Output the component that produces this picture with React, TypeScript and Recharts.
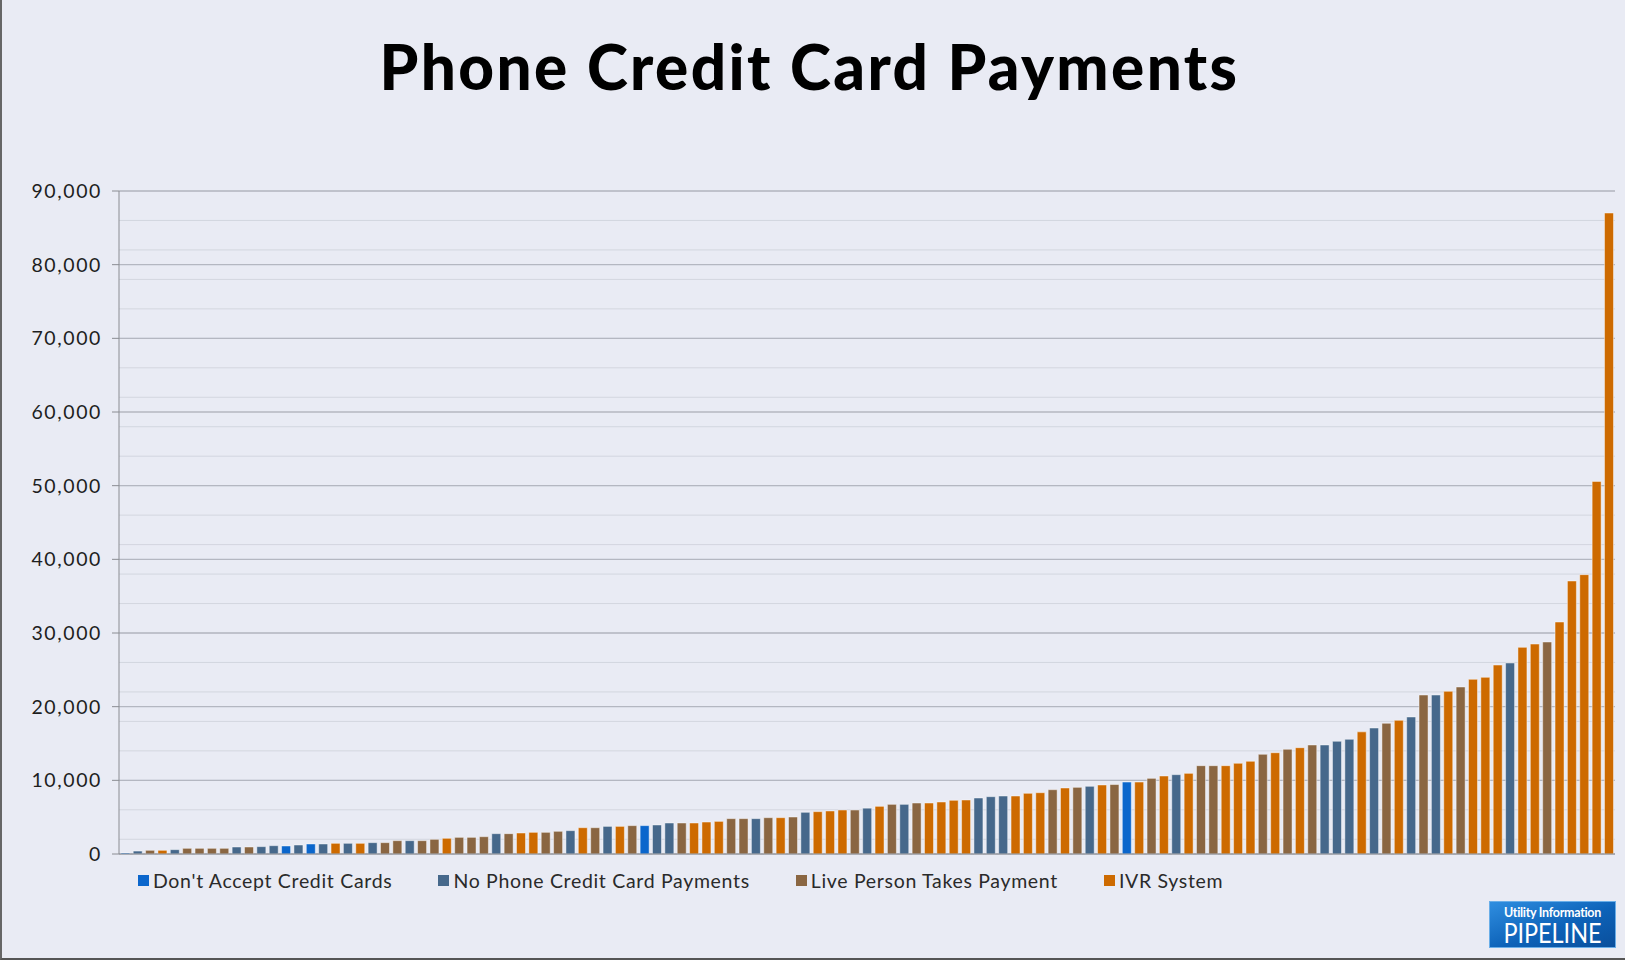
import { BarChart, Bar, XAxis, YAxis, CartesianGrid, Cell } from 'recharts'

const categories = [
  "Don't Accept Credit Cards",
  'No Phone Credit Card Payments',
  'Live Person Takes Payment',
  'IVR System',
]
const categoryColors = ['#0b66cc', '#46688b', '#8a6642', '#cd6a00']

// one value per utility, sorted ascending
const payments = [
  150, 400, 500, 500, 590, 770, 770, 770, 770, 950,
  950, 1000, 1130, 1090, 1220, 1360, 1360, 1450, 1450, 1450,
  1540, 1540, 1810, 1810, 1810, 1990, 2130, 2260, 2260, 2350,
  2760, 2760, 2850, 2940, 2940, 3080, 3170, 3570, 3570, 3750,
  3750, 3850, 3850, 3940, 4210, 4210, 4210, 4340, 4430, 4800,
  4800, 4800, 4930, 4930, 5020, 5660, 5750, 5840, 5970, 5970,
  6220, 6470, 6740, 6740, 6920, 6920, 7060, 7290, 7330, 7600,
  7780, 7870, 7870, 8240, 8320, 8730, 8960, 9050, 9190, 9370,
  9430, 9770, 9770, 10270, 10590, 10770, 10950, 11990, 11990, 11990,
  12310, 12580, 13530, 13750, 14210, 14430, 14800, 14800, 15300, 15570,
  16580, 17100, 17740, 18140, 18600, 21580, 21580, 22080, 22670, 23710,
  23980, 25650, 25930, 28050, 28500, 28780, 31490, 37060, 37920, 50580,
  87010,
]

// index into categories
const paymentGroup = [
  0, 1, 2, 3, 1, 2, 2, 2, 2, 1,
  2, 1, 1, 0, 1, 0, 1, 3, 1, 3,
  1, 2, 2, 1, 2, 2, 3, 2, 2, 2,
  1, 2, 3, 3, 2, 2, 1, 3, 2, 1,
  3, 2, 0, 1, 1, 2, 3, 3, 3, 2,
  2, 1, 2, 3, 2, 1, 3, 3, 3, 2,
  1, 3, 2, 1, 2, 3, 3, 3, 3, 1,
  1, 1, 3, 3, 3, 2, 3, 2, 1, 3,
  2, 0, 3, 2, 3, 1, 3, 2, 2, 3,
  3, 3, 2, 3, 2, 3, 2, 1, 1, 1,
  3, 1, 2, 3, 1, 2, 1, 3, 2, 3,
  3, 3, 1, 3, 3, 2, 3, 3, 3, 3,
  3,
]

const yTicks = [0, 10000, 20000, 30000, 40000, 50000, 60000, 70000, 80000, 90000]
const minorLines = Array.from({ length: 46 }, (_, i) => i * 2000)

const FONT = 'Lato, "Open Sans", sans-serif'

const data = payments.map((v, i) => ({ idx: i + 1, value: v, group: paymentGroup[i] }))

export default function App() {
  return (
    <div
      style={{
        position: 'absolute', left: 0, top: 0, width: 1625, height: 960,
        background: '#e9ebf4', boxSizing: 'border-box',
        borderLeft: '2px solid #666', borderBottom: '2px solid #555',
        fontFamily: FONT, overflow: 'hidden',
      }}
    >
      <div
        style={{
          position: 'absolute', top: 29, left: 0, width: 1615, textAlign: 'center',
          fontSize: 62, fontWeight: 900, color: '#000', letterSpacing: '2.4px',
        }}
      >
        Phone Credit Card Payments
      </div>

      <div style={{ position: 'absolute', left: -2, top: 0 }}>
        <BarChart
          width={1625}
          height={960}
          data={data}
          margin={{ top: 191, right: 10, bottom: 105, left: 0 }}
          barCategoryGap="15%"
        >
          <CartesianGrid vertical={false} horizontalValues={minorLines} stroke="#d3d6df" strokeWidth={1} />
          <CartesianGrid vertical={false} horizontalValues={yTicks} stroke="#b4b7c1" strokeWidth={1.3} />
          <XAxis dataKey="idx" tick={false} tickLine={false} height={1} axisLine={{ stroke: '#8a8c92' }} />
          <YAxis
            type="number"
            domain={[0, 90000]}
            ticks={yTicks}
            width={119}
            tickSize={7}
            tickMargin={10}
            tickFormatter={(v: number) => v.toLocaleString('en-US')}
            tick={{ fontFamily: FONT, fontSize: 19.5, fill: '#1e1e1e', style: { letterSpacing: '1.6px' } }}
            axisLine={{ stroke: '#8a8c92' }}
            tickLine={{ stroke: '#8a8c92' }}
          />
          <Bar dataKey="value" isAnimationActive={false} stroke="rgba(255,255,255,0.45)" strokeWidth={1}>
            {data.map((d) => (
              <Cell key={d.idx} fill={categoryColors[d.group]} />
            ))}
          </Bar>
        </BarChart>
      </div>

      <div
        style={{
          position: 'absolute', left: 136, top: 869, display: 'flex', gap: 46,
          fontSize: 19.5, color: '#2a2a2a', whiteSpace: 'nowrap', letterSpacing: '0.68px',
        }}
      >
        {categories.map((c, i) => (
          <div key={c} style={{ display: 'flex', alignItems: 'center' }}>
            <span style={{ width: 11, height: 11, background: categoryColors[i], marginRight: 4, display: 'inline-block' }} />
            <span>{c}</span>
          </div>
        ))}
      </div>

      <div
        style={{
          position: 'absolute', left: 1487, top: 901, width: 127, height: 47,
          background: 'linear-gradient(160deg, #2f8ee0 0%, #0d62b8 55%, #0a4f9c 100%)',
          border: '1px solid #6aaee8', boxSizing: 'border-box', color: '#fff',
          textAlign: 'center', lineHeight: 1,
        }}
      >
        <div style={{ fontSize: 12.5, fontWeight: 700, marginTop: 4, lineHeight: '13px', letterSpacing: '-0.3px' }}>
          Utility Information
        </div>
        <div
          style={{
            fontSize: 26, fontWeight: 400, marginTop: 2, lineHeight: '25px',
            transform: 'scaleX(0.9)', transformOrigin: 'center',
          }}
        >
          PIPELINE
        </div>
      </div>
    </div>
  )
}
